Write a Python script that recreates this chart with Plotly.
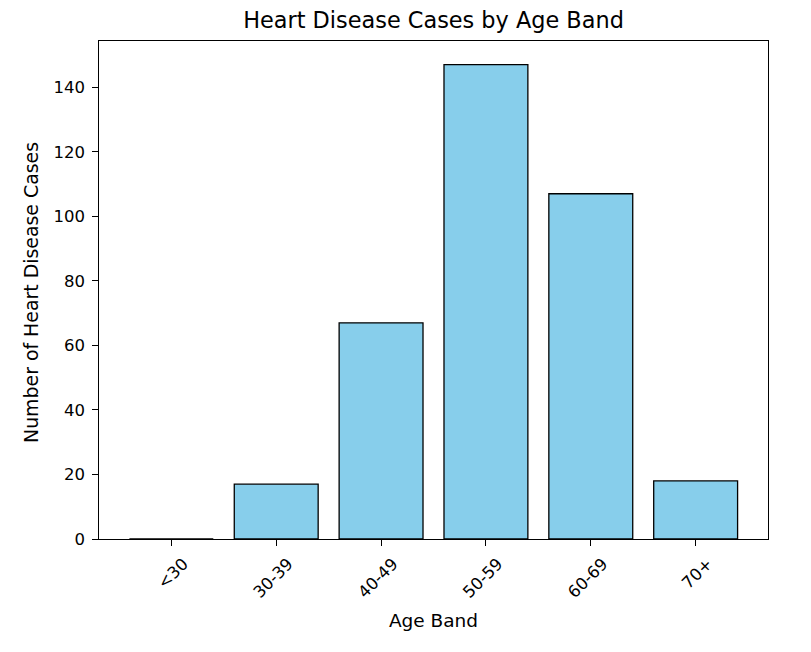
import plotly.graph_objects as go

age_bands = ["<30", "30-39", "40-49", "50-59", "60-69", "70+"]
cases = [0, 17, 67, 147, 107, 18]
y_ticks = [0, 20, 40, 60, 80, 100, 120, 140]

fig = go.Figure()
fig.add_trace(go.Bar(
    x=age_bands,
    y=cases,
    width=0.8,
    marker=dict(color="#87CEEB", line=dict(color="black", width=1.3)),
))

font_family = "DejaVu Sans"
fig.update_layout(
    width=803, height=644,
    margin=dict(l=91, r=43, t=33, b=113),
    paper_bgcolor="white", plot_bgcolor="white",
    showlegend=False,
    font=dict(family=font_family, color="black", size=16.5),
    title=dict(text="Heart Disease Cases by Age Band", font=dict(size=22.4, family=font_family, color="black"),
               x=0.5, xanchor="center", y=1 - 12 / 644, yanchor="middle", xref="paper", yref="container"),
    annotations=[dict(
        text="Number of Heart Disease Cases", textangle=-90,
        xref="paper", yref="paper", x=(23 - 91) / 669, y=0.494,
        xanchor="center", yanchor="middle", showarrow=False,
        font=dict(size=18.9, family=font_family, color="black"),
    )],
)
fig.update_xaxes(
    range=[-0.69, 5.69],
    showline=True, linecolor="black", linewidth=1.3, mirror=True,
    ticks="outside", ticklen=5.5, tickwidth=1.3, tickcolor="black",
    tickangle=-45, ticklabelshift=12, ticklabelstandoff=2,
    tickfont=dict(size=16.5, family=font_family, color="black"),
    showgrid=False, zeroline=False,
    title=dict(text="Age Band", font=dict(size=18.5, family=font_family, color="black"), standoff=13),
)
fig.update_yaxes(
    range=[0, 154.35],
    tickvals=y_ticks,
    showline=True, linecolor="black", linewidth=1.3, mirror=True,
    ticks="outside", ticklen=5.5, tickwidth=1.3, tickcolor="black",
    ticklabelstandoff=4,
    tickfont=dict(size=16.5, family=font_family, color="black"),
    showgrid=False, zeroline=False,
)

fig.write_html("out.html")
